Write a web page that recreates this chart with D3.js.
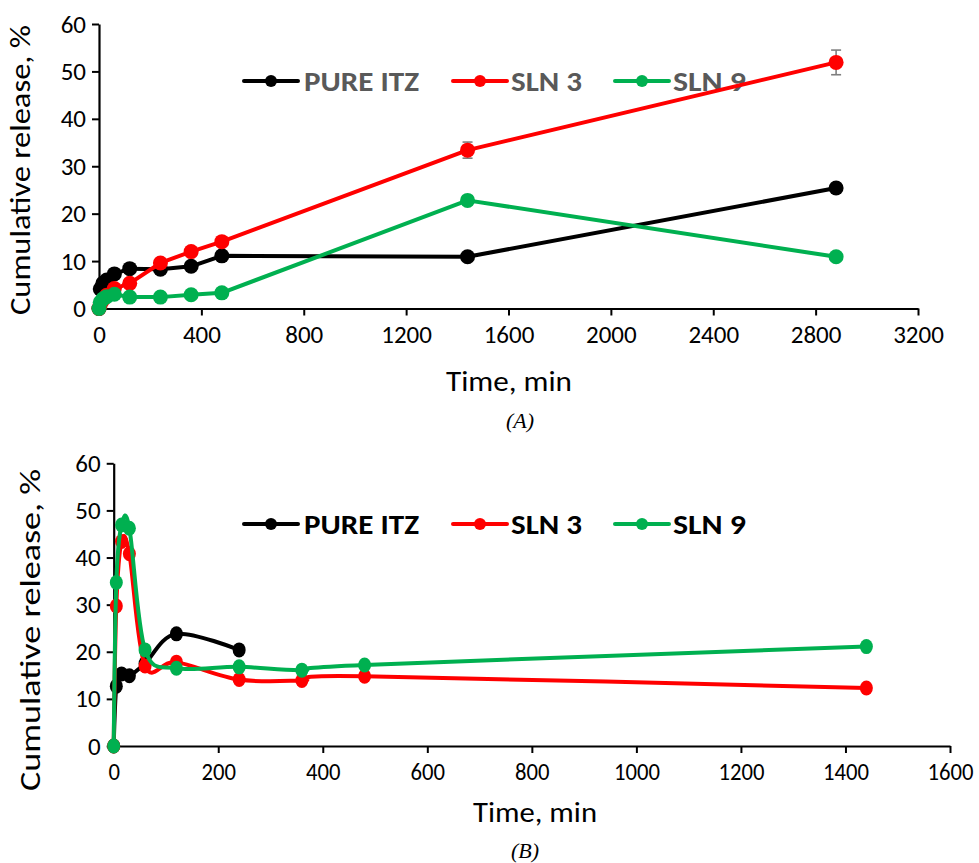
<!DOCTYPE html>
<html>
<head>
<meta charset="utf-8">
<script src="https://cdn.jsdelivr.net/npm/d3@7"></script>
<style>
  body { margin: 0; background: #fff; }
  svg { font-family: Carlito, Calibri, "Open Sans", sans-serif; }
</style>
</head>
<body>
<svg id="chart" width="979" height="863"></svg>
<script>
// ---- data, panel A (cumulative release over 48 h) ----
const timeA = [0, 5, 15, 30, 60, 120, 240, 360, 480, 1440, 2880];
const pureA = [0, 4.1, 5.3, 6.0, 7.3, 8.4, 8.3, 8.9, 11.1, 10.9, 25.4];
const sln3A = [0, 0.8, 1.8, 2.8, 4.2, 5.3, 9.6, 12.0, 14.1, 33.4, 51.9];
const sln9A = [0, 1.3, 2.0, 2.5, 3.0, 2.4, 2.4, 2.9, 3.3, 22.8, 10.9];
const pureAErr = [0, 0.2, 0.2, 0.2, 0.3, 0.3, 0.3, 0.3, 0.4, 0.4, 1.0];
const sln3AErr = [0, 0.2, 0.2, 0.3, 0.3, 0.4, 0.4, 0.5, 0.5, 1.7, 2.6];
const sln9AErr = [0, 0.1, 0.1, 0.2, 0.2, 0.2, 0.2, 0.2, 0.3, 0.6, 0.5];

// ---- data, panel B ----
const timePureB = [0, 5, 15, 30, 60, 120, 240];
const pureB = [0, 12.7, 15.3, 14.9, 17.5, 23.8, 20.4];
const timeB = [0, 5, 15, 30, 60, 120, 240, 360, 480, 1440];
const sln3B = [0, 29.7, 43.4, 40.8, 17.0, 17.8, 14.1, 13.9, 14.8, 12.3];
const sln9B = [0, 34.7, 46.9, 46.2, 20.4, 16.5, 16.8, 16.1, 17.2, 21.1];

const ticksXA = [0, 400, 800, 1200, 1600, 2000, 2400, 2800, 3200];
const ticksXB = [0, 200, 400, 600, 800, 1000, 1200, 1400, 1600];
const ticksY = [0, 10, 20, 30, 40, 50, 60];

const names = ["PURE ITZ", "SLN 3", "SLN 9"];
const colors = ["#000000", "#ff0000", "#00b050"];

const svg = d3.select("#chart");

function drawAxes(x, y, ticksX, opt) {
  const gx = svg.append("g")
    .attr("transform", "translate(0," + y(0) + ")")
    .call(d3.axisBottom(x).tickValues(ticksX).tickFormat(d3.format("d"))
      .tickSize(7).tickSizeOuter(0).tickPadding(7));
  const gy = svg.append("g")
    .attr("transform", "translate(" + x(0) + ",0)")
    .call(d3.axisLeft(y).tickValues(ticksY).tickFormat(d3.format("d"))
      .tickSize(7).tickSizeOuter(0).tickPadding(opt.yPad));
  [gx, gy].forEach(g => {
    g.attr("font-family", null).attr("font-size", null);
    g.select(".domain").attr("stroke-width", 2.2);
    g.selectAll(".tick line").attr("stroke-width", 2);
    g.selectAll(".tick text").style("font-size", opt.tickSize + "px").attr("fill", "#000");
  });
  gx.selectAll(".tick text").attr("dy", opt.xDy)
    .attr("transform", opt.xSquash ? null : null);
  if (opt.xSquash) {
    gx.selectAll(".tick text").each(function () {
      const t = d3.select(this);
      t.attr("textLength", t.text().length * opt.xSquash).attr("lengthAdjust", "spacingAndGlyphs");
    });
  }

  svg.append("text")
    .attr("x", opt.xTitle[0]).attr("y", opt.xTitle[1])
    .attr("text-anchor", "middle").style("font-size", "29px")
    .attr("textLength", opt.xTitleLen).attr("lengthAdjust", "spacingAndGlyphs")
    .text("Time, min");
  svg.append("text")
    .attr("transform", "translate(" + opt.yTitle[0] + "," + opt.yTitle[1] + ") rotate(-90)")
    .attr("text-anchor", "middle").style("font-size", "28px")
    .attr("textLength", opt.yTitleLen).attr("lengthAdjust", "spacingAndGlyphs")
    .text(opt.yTitleText);
  svg.append("text")
    .attr("x", opt.tag[0]).attr("y", opt.tag[1])
    .attr("text-anchor", "middle")
    .style("font-size", "22px")
    .style("font-family", "'Liberation Serif', 'Times New Roman', serif")
    .style("font-style", "italic")
    .text(opt.tagText);
}

function drawLegend(ly, fill) {
  const items = [
    { x0: 244, x1: 298, tx: 304, len: 115 },
    { x0: 453, x1: 507, tx: 511, len: 71 },
    { x0: 615, x1: 669, tx: 673, len: 73 }
  ];
  items.forEach((it, i) => {
    svg.append("line")
      .attr("x1", it.x0).attr("x2", it.x1).attr("y1", ly).attr("y2", ly)
      .attr("stroke", colors[i]).attr("stroke-width", 4).attr("stroke-linecap", "round");
    svg.append("circle")
      .attr("cx", (it.x0 + it.x1) / 2).attr("cy", ly).attr("r", 6)
      .attr("fill", colors[i]);
    svg.append("text")
      .attr("x", it.tx).attr("y", ly + 10)
      .style("font-size", "28px").style("font-weight", "bold").attr("fill", fill)
      .attr("textLength", it.len).attr("lengthAdjust", "spacingAndGlyphs")
      .text(names[i]);
  });
}

// ---------------- panel A ----------------
const xA = d3.scaleLinear().domain([0, 3200]).range([99, 918]);
const yA = d3.scaleLinear().domain([0, 60]).range([308.5, 24]);

drawAxes(xA, yA, ticksXA, {
  tickSize: 25, yPad: 6, xDy: "0.8em",
  xTitle: [509, 391], xTitleLen: 126, yTitle: [30, 170], yTitleLen: 290,
  yTitleText: "Cumulative release, %",
  tag: [520, 428], tagText: "(A)"
});

const seriesA = [
  { v: pureA, e: pureAErr },
  { v: sln3A, e: sln3AErr },
  { v: sln9A, e: sln9AErr }
];
const lineA = d3.line().x(d => xA(d[0])).y(d => yA(d[1]));

drawLegend(81, "#595959");

// draw in order: pure, sln3, sln9 so green stays on top
seriesA.forEach((s, i) => {
  const pts = timeA.map((t, k) => [t, s.v[k], s.e[k]]);
  svg.append("path")
    .datum(pts)
    .attr("d", lineA)
    .attr("fill", "none").attr("stroke", colors[i]).attr("stroke-width", 4)
    .attr("stroke-linejoin", "round");
  const eb = svg.append("g").attr("stroke", "#7f7f7f").attr("stroke-width", 1.6);
  pts.forEach(p => {
    if (p[2] <= 0) return;
    const cx = xA(p[0]), top = yA(p[1] + p[2]), bot = yA(p[1] - p[2]);
    eb.append("line").attr("x1", cx).attr("x2", cx).attr("y1", top).attr("y2", bot);
    eb.append("line").attr("x1", cx - 5).attr("x2", cx + 5).attr("y1", top).attr("y2", top);
    eb.append("line").attr("x1", cx - 5).attr("x2", cx + 5).attr("y1", bot).attr("y2", bot);
  });
  svg.append("g").selectAll("circle")
    .data(pts).join("circle")
    .attr("cx", d => xA(d[0])).attr("cy", d => yA(d[1])).attr("r", 7.5)
    .attr("fill", colors[i]);
});

// ---------------- panel B ----------------
const xB = d3.scaleLinear().domain([0, 1600]).range([113.7, 950]);
const yB = d3.scaleLinear().domain([0, 60]).range([746, 463.3]);

drawAxes(xB, yB, ticksXB, {
  tickSize: 25, yPad: 6, xDy: "0.8em", xSquash: 11.5,
  xTitle: [535, 822], xTitleLen: 124, yTitle: [40, 630], yTitleLen: 322,
  yTitleText: "Cumulative release,  %",
  tag: [525, 858], tagText: "(B)"
});

drawLegend(524, "#000000");

const lineB = d3.line().curve(d3.curveCardinal.tension(0))
  .x(d => xB(d[0])).y(d => yB(d[1]));

const seriesB = [
  { t: timePureB, v: pureB },
  { t: timeB, v: sln3B },
  { t: timeB, v: sln9B }
];
seriesB.forEach((s, i) => {
  const pts = s.t.map((t, k) => [t, s.v[k]]);
  svg.append("path")
    .datum(pts)
    .attr("d", lineB)
    .attr("fill", "none").attr("stroke", colors[i]).attr("stroke-width", 4)
    .attr("stroke-linejoin", "round");
  svg.append("g").selectAll("ellipse")
    .data(pts).join("ellipse")
    .attr("cx", d => xB(d[0])).attr("cy", d => yB(d[1]))
    .attr("rx", 6.5).attr("ry", 7.5)
    .attr("fill", colors[i]);
});
</script>
</body>
</html>
